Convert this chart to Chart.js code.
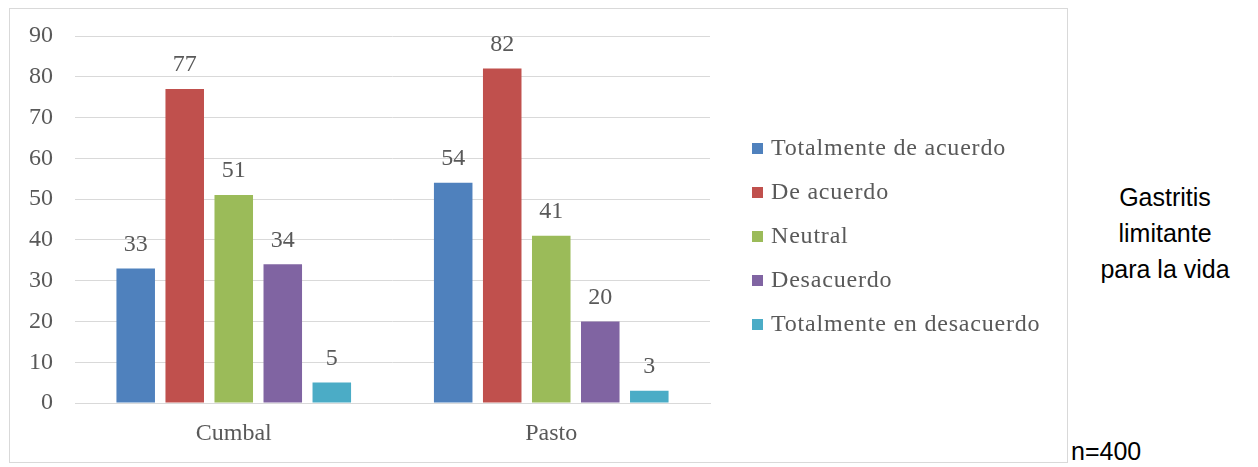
<!DOCTYPE html>
<html>
<head>
<meta charset="utf-8">
<script src="https://cdn.jsdelivr.net/npm/chart.js@4.4.1/dist/chart.umd.min.js"></script>
<style>
    body { margin: 0; width: 1258px; height: 467px; background: #fff; position: relative; overflow: hidden; }
    #box { position: absolute; left: 9px; top: 8px; width: 1057px; height: 453px; border: 1px solid #d9d9d9; }
    #box canvas { display: block; }
    #legend { position: absolute; left: 742px; top: 116px; margin: 0; padding: 0; list-style: none;
        font-family: "Liberation Serif", "Times New Roman", serif; font-size: 24px; color: #595959; letter-spacing: 0.8px; }
    #legend li { height: 44px; line-height: 44px; white-space: nowrap; }
    #legend span { display: inline-block; width: 11px; height: 11px; margin-right: 8px; vertical-align: 1px; }
    .side { position: absolute; font-family: "Liberation Sans", Arial, sans-serif; font-size: 25px; color: #000; }
    #title { left: 1075px; width: 180px; top: 179px; text-align: center; line-height: 36px; }
    #count { left: 1071px; top: 437px; }
</style>
</head>
<body>
<div id="box"><canvas id="gastritisChart" width="1057" height="453"></canvas><ul id="legend"></ul></div>
<div class="side" id="title">Gastritis<br>limitante<br>para la vida</div>
<div class="side" id="count">n=400</div>

<script>
// Answers per municipality
const places = ["Cumbal", "Pasto"];
const answers = ["Totalmente de acuerdo", "De acuerdo", "Neutral", "Desacuerdo", "Totalmente en desacuerdo"];
const totalmenteDeAcuerdo = [33, 54];
const deAcuerdo = [77, 82];
const neutral = [51, 41];
const desacuerdo = [34, 20];
const totalmenteEnDesacuerdo = [5, 3];
const yTicks = [0, 10, 20, 30, 40, 50, 60, 70, 80, 90];

const colors = ["#4f81bd", "#c0504d", "#9bbb59", "#8064a2", "#4bacc6"];
const seriesValues = [totalmenteDeAcuerdo, deAcuerdo, neutral, desacuerdo, totalmenteEnDesacuerdo];

const textColor = "#595959";
const serif = "'Liberation Serif', 'Times New Roman', serif";

// Draws the value above each bar
const valueLabels = {
    id: "valueLabels",
    afterDatasetsDraw(chart) {
        const ctx = chart.ctx;
        ctx.save();
        ctx.font = "24px " + serif;
        ctx.fillStyle = textColor;
        ctx.textAlign = "center";
        ctx.textBaseline = "bottom";
        chart.data.datasets.forEach((ds, i) => {
            chart.getDatasetMeta(i).data.forEach((bar, j) => {
                ctx.fillText(ds.data[j], bar.x, bar.y - 12);
            });
        });
        ctx.restore();
    },
};

const ctx = document.getElementById("gastritisChart").getContext("2d");
const chart = new Chart(ctx, {
    type: "bar",
    data: {
        labels: places,
        datasets: answers.map((name, i) => ({
            label: name,
            data: seriesValues[i],
            backgroundColor: colors[i],
            categoryPercentage: 0.772,
            barPercentage: 0.786,
        })),
    },
    options: {
        responsive: false,
        animation: false,
        layout: { padding: { left: 0, top: 27, right: 357, bottom: 0 } },
        plugins: {
            tooltip: { enabled: false },
            legend: { display: false },
        },
        scales: {
            x: {
                afterFit: (axis) => { axis.height = 59; },
                grid: { display: false, drawTicks: false },
                border: { color: "#d9d9d9" },
                ticks: { color: textColor, font: { family: serif, size: 24 }, padding: 16 },
            },
            y: {
                min: 0,
                max: 90,
                afterFit: (axis) => {
                    axis.width = 65;
                    axis.paddingTop = 0;
                    axis.paddingBottom = 0;
                },
                afterBuildTicks: (axis) => { axis.ticks = yTicks.map((v) => ({ value: v })); },
                grid: { color: "#d9d9d9", drawTicks: false },
                border: { display: false },
                ticks: { color: textColor, font: { family: serif, size: 24 }, padding: 22 },
            },
        },
    },
    plugins: [valueLabels],
});

// Legend list next to the plot, built from the chart's own legend items
const legendList = document.getElementById("legend");
chart.options.plugins.legend.labels.generateLabels(chart).forEach((item) => {
    const li = document.createElement("li");
    const box = document.createElement("span");
    box.style.background = item.fillStyle;
    li.appendChild(box);
    li.appendChild(document.createTextNode(item.text));
    legendList.appendChild(li);
});
</script>
</body>
</html>
